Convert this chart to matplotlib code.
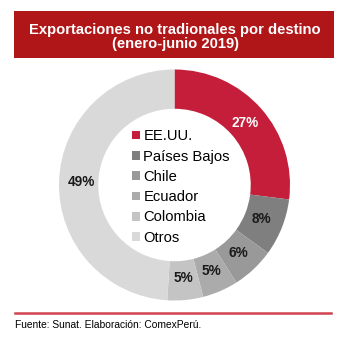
import matplotlib
matplotlib.use("Agg")
import matplotlib.pyplot as plt
from matplotlib.patches import Rectangle

plt.rcParams["font.family"] = ["Liberation Sans", "DejaVu Sans"]

# Participacion por destino, ene-jun 2019 (%)
destinos = ["EE.UU.", "Países Bajos", "Chile", "Ecuador", "Colombia", "Otros"]
participacion = [27, 8, 6, 5, 5, 49]
colores = ["#C41E3A", "#7F7F7F", "#999999", "#ABABAB", "#C4C4C4", "#D9D9D9"]
colores_pct = ["white", "#1a1a1a", "#1a1a1a", "#1a1a1a", "#1a1a1a", "#1a1a1a"]

titulo = "Exportaciones no tradionales por destino\n(enero-junio 2019)"
fuente = "Fuente: Sunat. Elaboración: ComexPerú."

W, H = 349, 347
fig = plt.figure(figsize=(W / 100, H / 100), dpi=100)
fig.patch.set_facecolor("white")

# banda del titulo
fig.patches.append(Rectangle((14 / W, 1 - 58 / H), 320 / W, 47 / H,
                             transform=fig.transFigure, facecolor="#B01518",
                             edgecolor="none"))
fig.text(175 / W, 1 - 37 / H, titulo, ha="center", va="center",
         color="white", fontsize=10.6, fontweight="bold", linespacing=1.05)

# dona
cx, cy, r = 174.5, 185.0, 115.5
ax = fig.add_axes([(cx - r) / W, (H - cy - r) / H, 2 * r / W, 2 * r / H])
wedges, _, pcts = ax.pie(participacion, colors=colores, startangle=90,
                         counterclock=False, autopct="%d%%", pctdistance=0.81,
                         wedgeprops=dict(width=0.34, edgecolor="none"),
                         textprops=dict(fontsize=9.8, fontweight="bold"))
for t, c in zip(pcts, colores_pct):
    t.set_color(c)
ax.set_xlim(-1, 1)
ax.set_ylim(-1, 1)
ax.set_aspect("equal")

ax.legend(wedges, destinos, loc="center", bbox_to_anchor=(181 / W, 1 - 187 / H),
          bbox_transform=fig.transFigure, frameon=False, fontsize=10.6,
          handlelength=0.55, handleheight=0.55, handletextpad=0.2,
          labelspacing=0.43, borderpad=0)

# pie de pagina
fig.add_artist(plt.Line2D([15 / W, 331 / W], [1 - 313 / H, 1 - 313 / H],
                          transform=fig.transFigure, color="#D0424F", lw=1.8))
fig.text(15 / W, 1 - 325 / H, fuente, ha="left", va="center",
         fontsize=7.4, color="black")

fig.savefig("out.png", dpi=100, facecolor="white")
